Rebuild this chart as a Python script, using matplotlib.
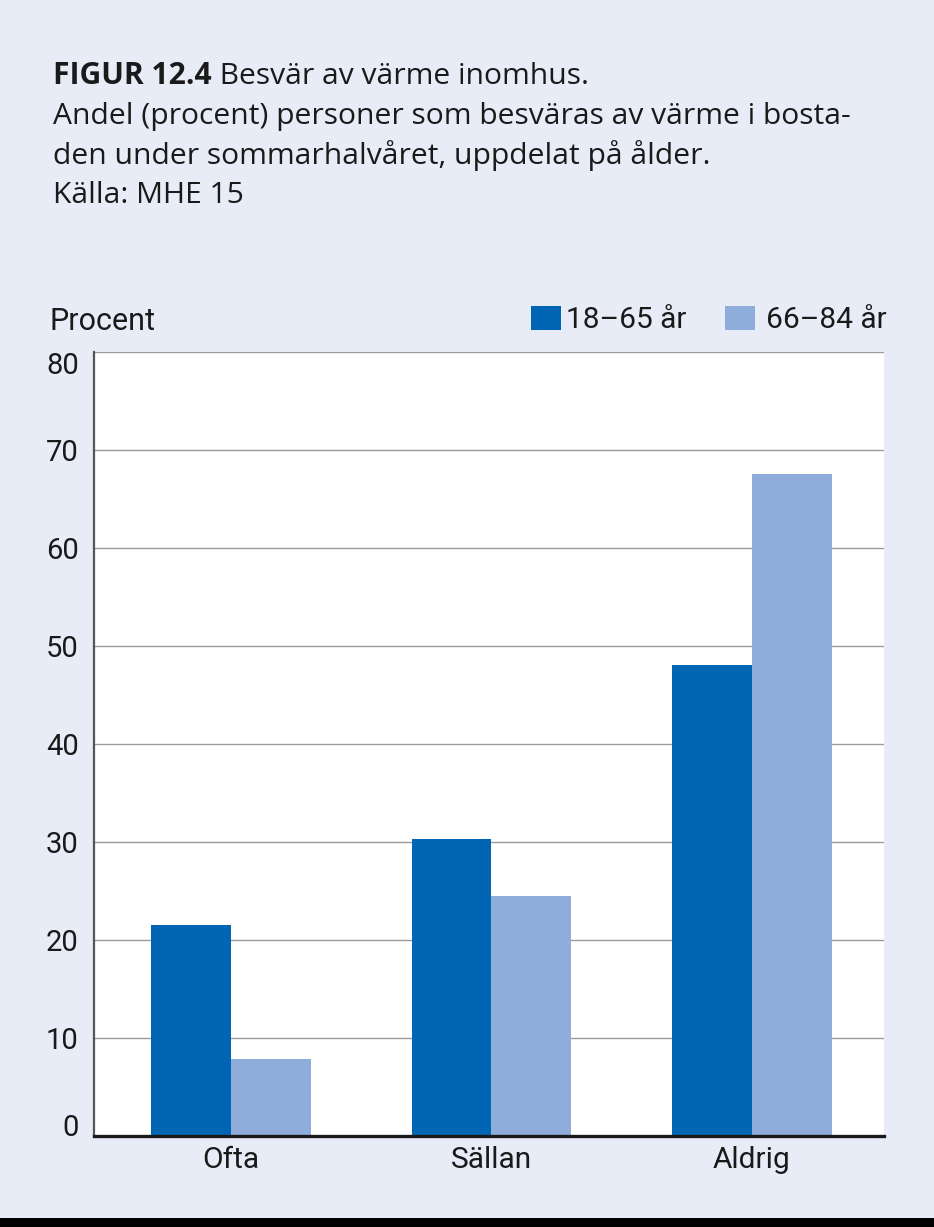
import matplotlib
matplotlib.use("Agg")
import matplotlib.pyplot as plt
from matplotlib.patches import Rectangle
import numpy as np

categories = ["Ofta", "Sällan", "Aldrig"]
series_names = ["18–65 år", "66–84 år"]
values_young = [21.5, 30.3, 48.1]
values_old = [7.9, 24.5, 67.6]
yticks = [0, 10, 20, 30, 40, 50, 60, 70, 80]

title_bold = "FIGUR 12.4"
title_rest = " Besvär av värme inomhus."
subtitle_lines = [
    "Andel (procent) personer som besväras av värme i bosta-",
    "den under sommarhalvåret, uppdelat på ålder.",
    "Källa: MHE 15",
]

BG = "#e8ecf7"
DARK = "#0066b3"
LIGHT = "#8fadda"
TXT = "#1a1a1a"
FONT = "Roboto"
TFONT = "Open Sans"

W, H = 934, 1227
fig = plt.figure(figsize=(W / 100, H / 100), dpi=100)
fig.patch.set_facecolor(BG)

def fx(px):
    return px / W

def fy(py):
    return 1 - py / H

# bottom black band
fig.patches.append(Rectangle((0, 0), 1, 9 / H, transform=fig.transFigure,
                             facecolor="black", edgecolor="none", zorder=0))

ax = fig.add_axes([fx(94), fy(1136), fx(884) - fx(94), fy(352) - fy(1136)])
ax.set_facecolor("white")

x = np.arange(len(categories))
w = 0.307
ax.bar(x - w / 2, values_young, width=w, color=DARK, zorder=3)
ax.bar(x + w / 2, values_old, width=w, color=LIGHT, zorder=3)

ax.set_xlim(-0.526, 2.507)
ax.set_ylim(0, 80)
ax.set_yticks(yticks)
ax.set_yticklabels([str(t) for t in yticks], fontsize=21, family=FONT, color=TXT)
ax.set_xticks(x)
ax.set_xticklabels(categories, fontsize=21.5, family=FONT, color=TXT)
ax.tick_params(axis="y", length=0, pad=11)
ax.tick_params(axis="x", length=0, pad=7)
ylabs = ax.get_yticklabels()
ylabs[0].set_va("baseline")
ylabs[-1].set_va("top")

ax.grid(axis="y", color="#9a9a9a", linewidth=1.0, zorder=1)
ax.set_axisbelow(True)
for s in ["top", "right"]:
    ax.spines[s].set_visible(False)
ax.spines["left"].set_color("#555555")
ax.spines["left"].set_linewidth(1.6)
ax.spines["bottom"].set_color("#1a1a1a")
ax.spines["bottom"].set_linewidth(2.4)
ax.spines["bottom"].set_zorder(5)

# Title
renderer = fig.canvas.get_renderer()
TS = 21.6
t1 = fig.text(fx(53), fy(84), title_bold, fontsize=TS, fontweight="bold",
              family=TFONT, color=TXT, va="baseline", ha="left")
bb = t1.get_window_extent(renderer=renderer)
fig.text(bb.x1 / W, fy(84), title_rest, fontsize=TS, family=TFONT,
         color=TXT, va="baseline", ha="left")
for i, line in enumerate(subtitle_lines):
    fig.text(fx(53), fy(124 + 39.7 * i), line, fontsize=TS, family=TFONT,
             color=TXT, va="baseline", ha="left")

# y label
fig.text(fx(50), fy(330), "Procent", fontsize=22, family=FONT, color=TXT,
         va="baseline", ha="left")

# legend
leg_items = [(531, 566, DARK, series_names[0]), (725, 766, LIGHT, series_names[1])]
for sx, tx, col, lab in leg_items:
    fig.patches.append(Rectangle((fx(sx), fy(330)), 30 / W, 24 / H,
                                 transform=fig.transFigure, facecolor=col,
                                 edgecolor="none"))
    fig.text(fx(tx), fy(328), lab, fontsize=21.5, family=FONT, color=TXT,
             va="baseline", ha="left")

fig.savefig("out.png", dpi=100, facecolor=BG)
